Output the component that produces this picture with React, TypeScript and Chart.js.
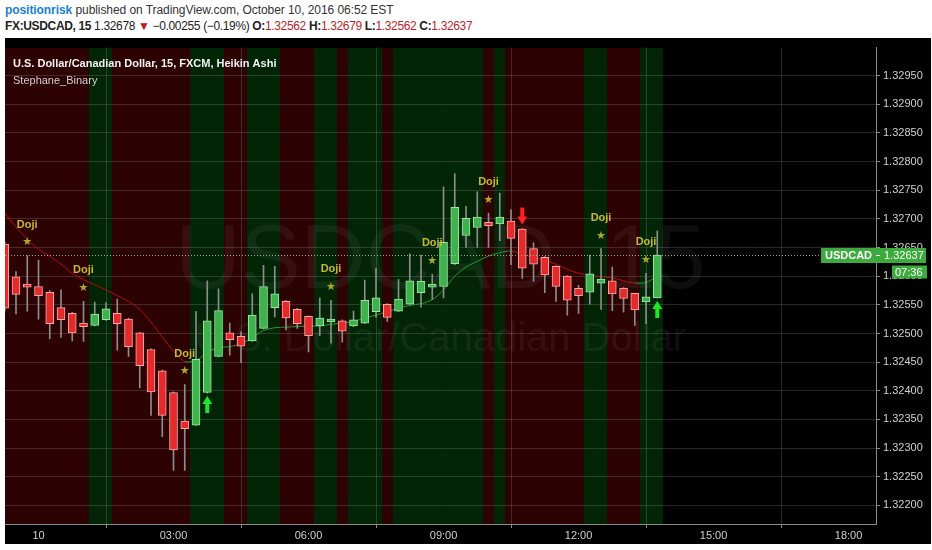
import React, { useEffect, useRef } from "react";
import { Chart, registerables } from "chart.js";
Chart.register(...registerables);

// quarter-hour bar index, 0 = 00:00 on Oct 10
const candleIndex = [
  -3, -2, -1, 0, 1, 2, 3, 4, 5, 6, 7, 8, 9, 10, 11, 12, 13, 14, 15, 16, 17, 18, 19, 20, 21, 22, 23, 24, 25, 26,
  27, 28, 29, 30, 31, 32, 33, 34, 35, 36, 37, 38, 39, 40, 41, 42, 43, 44, 45, 46, 47, 48, 49, 50, 51, 52, 53, 54, 55,
];
const openValues = [
  1.32656, 1.32599, 1.32585, 1.32582, 1.32572, 1.32545, 1.32535, 1.32518, 1.32514, 1.32524, 1.32535, 1.32525,
  1.32501, 1.32472, 1.32435, 1.32397, 1.32347, 1.3234, 1.32397, 1.3246, 1.32501, 1.32495, 1.32487, 1.32509,
  1.32545, 1.32556, 1.32542, 1.3253, 1.32513, 1.3252, 1.32522, 1.32513, 1.32518, 1.32538, 1.32551, 1.32539,
  1.32551, 1.32571, 1.32581, 1.32582, 1.32622, 1.32671, 1.32685, 1.32694, 1.32691, 1.32696, 1.32682, 1.32648,
  1.32633, 1.32617, 1.326, 1.32579, 1.32572, 1.32588, 1.32592, 1.32579, 1.3257, 1.32555, 1.32562,
];
const highValues = [
  1.3266, 1.32608, 1.32636, 1.32628, 1.32575, 1.32576, 1.32537, 1.32556, 1.32555, 1.32554, 1.3256, 1.32527,
  1.32502, 1.32473, 1.32436, 1.32398, 1.32411, 1.32538, 1.32592, 1.32578, 1.32518, 1.32503, 1.32569, 1.32619,
  1.32617, 1.32558, 1.32544, 1.32531, 1.32562, 1.32558, 1.32524, 1.32539, 1.32593, 1.32614, 1.32552, 1.32594,
  1.32639, 1.32637, 1.32603, 1.32756, 1.32779, 1.32722, 1.32747, 1.3271, 1.32745, 1.32716, 1.32683, 1.32658,
  1.32634, 1.32618, 1.32601, 1.32584, 1.32637, 1.32648, 1.32616, 1.3258, 1.3257, 1.32605, 1.32679,
];
const lowValues = [
  1.3254, 1.32534, 1.32539, 1.32525, 1.32491, 1.32493, 1.32487, 1.32486, 1.32513, 1.32523, 1.32471, 1.3246,
  1.32405, 1.32357, 1.3232, 1.32261, 1.32261, 1.32339, 1.32396, 1.32459, 1.32462, 1.32449, 1.32486, 1.32508,
  1.32529, 1.32506, 1.32509, 1.32468, 1.32496, 1.32483, 1.32485, 1.32512, 1.32517, 1.32528, 1.32521, 1.32538,
  1.3255, 1.32546, 1.32559, 1.32562, 1.3262, 1.3265, 1.3265, 1.3265, 1.32662, 1.3262, 1.32596, 1.32591,
  1.32571, 1.32556, 1.32532, 1.32535, 1.32551, 1.32542, 1.3254, 1.32537, 1.32514, 1.32517, 1.32562,
];
const closeValues = [
  1.32544, 1.32568, 1.32581, 1.32566, 1.32517, 1.32524, 1.32501, 1.32512, 1.32534, 1.32543, 1.32517, 1.32477,
  1.32444, 1.32398, 1.32357, 1.32297, 1.32334, 1.32455, 1.32522, 1.3254, 1.32489, 1.32478, 1.32532, 1.32582,
  1.32569, 1.32527, 1.32517, 1.32496, 1.32527, 1.32525, 1.32504, 1.32524, 1.32558, 1.32562, 1.32528, 1.3256,
  1.32592, 1.32591, 1.32582, 1.32659, 1.3272, 1.32701, 1.32703, 1.32688, 1.32703, 1.32666, 1.32614, 1.32621,
  1.32602, 1.32582, 1.32558, 1.32566, 1.32604, 1.32595, 1.32569, 1.32561, 1.32541, 1.32564, 1.32637,
];
const maValues = [
  1.3271, 1.32686, 1.32665, 1.32647, 1.32635, 1.32621, 1.32605, 1.32594, 1.32585, 1.32576, 1.32566, 1.32556,
  1.32542, 1.3252, 1.32494, 1.32469, 1.32451, 1.32453, 1.32467, 1.32475, 1.32477, 1.32482, 1.32493, 1.32505,
  1.3251, 1.32511, 1.32512, 1.32513, 1.32513, 1.32516, 1.32518, 1.32521, 1.32527, 1.32532, 1.32538, 1.32544,
  1.32549, 1.32552, 1.32559, 1.32576, 1.326, 1.32616, 1.32626, 1.32635, 1.32641, 1.32644, 1.32638, 1.32633,
  1.32628, 1.32621, 1.32612, 1.32605, 1.32602, 1.32599, 1.32597, 1.32592, 1.32588, 1.32589, 1.326,
];
const dojiIndex = [-1, 4, 13, 26, 35, 40, 50, 54];
const upArrowIndex = [15, 55];
const downArrowIndex = [43];
const xTickValues = [0, 12, 24, 36, 48, 60, 72];
const xTickLabels = ["10", "03:00", "06:00", "09:00", "12:00", "15:00", "18:00"];
const yTickValues = [
  1.322, 1.3225, 1.323, 1.3235, 1.324, 1.3245, 1.325, 1.3255, 1.326, 1.3265, 1.327, 1.3275, 1.328, 1.3285, 1.329,
  1.3295,
];
const lastPrice = 1.32637;
const lastPriceLabel = "1.32637";
const symbolLabel = "USDCAD";
const countdownLabel = "07:36";

const FONT = "'Liberation Sans', Arial, sans-serif";
const UP_FILL = "#3fb24e";
const UP_BORDER = "#9be6a2";
const DOWN_FILL = "#e42b2b";
const DOWN_BORDER = "#ffa8a8";
const BAND_UP = "#022506";
const BAND_DOWN = "#2d0202";

const bandsPlugin = {
  id: "bands",
  beforeDraw(chart: any) {
    const { ctx, chartArea: a, scales } = chart;
    const x = scales.x;
    ctx.save();
    ctx.fillStyle = "#000";
    ctx.fillRect(0, 0, chart.width, chart.height);
    ctx.beginPath();
    ctx.rect(a.left, a.top, a.right - a.left, a.bottom - a.top);
    ctx.clip();
    candleIndex.forEach((idx, k) => {
      const x0 = Math.round(x.getPixelForValue(idx - 0.5));
      const x1 = Math.round(x.getPixelForValue(idx + 0.5));
      ctx.fillStyle = closeValues[k] >= openValues[k] ? BAND_UP : BAND_DOWN;
      ctx.fillRect(x0, a.top, x1 - x0, a.bottom - a.top);
    });
    ctx.restore();
  },
};

const watermarkPlugin = {
  id: "watermark",
  beforeDatasetsDraw(chart: any) {
    const { ctx, chartArea: a } = chart;
    const cx = (a.left + a.right) / 2;
    ctx.save();
    ctx.fillStyle = "rgba(255,255,255,0.055)";
    ctx.textAlign = "center";
    ctx.textBaseline = "middle";
    ctx.font = `90px ${FONT}`;
    ctx.fillText("USDCAD, 15", cx, a.top + 216);
    ctx.font = `40px ${FONT}`;
    ctx.fillText("U.S. Dollar/Canadian Dollar", cx, a.top + 292);
    ctx.restore();
  },
};

function drawArrow(ctx: CanvasRenderingContext2D, cx: number, tipY: number, dir: number, color: string) {
  // dir = -1 pointing up, 1 pointing down; tipY is arrow tip
  const len = 17;
  const head = 8;
  const hw = 5;
  const sw = 2;
  const baseY = tipY - dir * len;
  const headY = tipY - dir * head;
  ctx.fillStyle = color;
  ctx.beginPath();
  ctx.moveTo(cx, tipY);
  ctx.lineTo(cx + hw, headY);
  ctx.lineTo(cx + sw, headY);
  ctx.lineTo(cx + sw, baseY);
  ctx.lineTo(cx - sw, baseY);
  ctx.lineTo(cx - sw, headY);
  ctx.lineTo(cx - hw, headY);
  ctx.closePath();
  ctx.fill();
}

const markersPlugin = {
  id: "markers",
  afterDatasetsDraw(chart: any) {
    const { ctx, scales } = chart;
    const x = scales.x;
    const y = scales.y;
    ctx.save();
    ctx.textAlign = "center";
    ctx.textBaseline = "middle";
    dojiIndex.forEach((idx) => {
      const k = candleIndex.indexOf(idx);
      const px = x.getPixelForValue(idx);
      const py = y.getPixelForValue(highValues[k]);
      ctx.fillStyle = "#aaa82a";
      ctx.font = `11px 'DejaVu Sans', sans-serif`;
      ctx.fillText("★", px, py - 13);
      ctx.fillStyle = "#c6bb30";
      ctx.font = `bold 11px ${FONT}`;
      ctx.fillText("Doji", px, py - 31);
    });
    upArrowIndex.forEach((idx) => {
      const k = candleIndex.indexOf(idx);
      const px = x.getPixelForValue(idx);
      const py = y.getPixelForValue(lowValues[k]);
      drawArrow(ctx, px, py + 3, -1, "#1ee62a");
    });
    downArrowIndex.forEach((idx) => {
      const k = candleIndex.indexOf(idx);
      const px = x.getPixelForValue(idx);
      const py = y.getPixelForValue(highValues[k]);
      drawArrow(ctx, px, py - 4, 1, "#ff2020");
    });
    ctx.restore();
  },
};

const overlayPlugin = {
  id: "overlay",
  afterDraw(chart: any) {
    const { ctx, chartArea: a, scales } = chart;
    const y = scales.y;
    const py = Math.round(y.getPixelForValue(lastPrice)) + 0.5;
    ctx.save();
    // dotted last price line
    ctx.strokeStyle = "rgba(170,210,170,0.8)";
    ctx.lineWidth = 1;
    ctx.setLineDash([1, 2]);
    ctx.beginPath();
    ctx.moveTo(a.left, py);
    ctx.lineTo(a.right, py);
    ctx.stroke();
    ctx.setLineDash([]);
    // symbol label
    ctx.fillStyle = "#3daa3d";
    ctx.fillRect(a.right - 55, py - 7.5, 55, 15);
    ctx.fillRect(a.right, py - 7.5, 50, 15);
    ctx.fillRect(a.right + 16, py + 10, 35, 13);
    ctx.fillStyle = "#fff";
    ctx.textBaseline = "middle";
    ctx.textAlign = "center";
    ctx.font = `bold 11px ${FONT}`;
    ctx.fillText(symbolLabel, a.right - 27.5, py + 0.5);
    ctx.textAlign = "left";
    ctx.font = `11px ${FONT}`;
    ctx.fillText(lastPriceLabel, a.right + 8, py + 0.5);
    ctx.fillText(countdownLabel, a.right + 19, py + 17);
    ctx.strokeStyle = "#fff";
    ctx.beginPath();
    ctx.moveTo(a.right, py);
    ctx.lineTo(a.right + 4, py);
    ctx.stroke();
    // titles
    ctx.textAlign = "left";
    ctx.fillStyle = "#f2f2f2";
    ctx.font = `bold 11px ${FONT}`;
    ctx.fillText("U.S. Dollar/Canadian Dollar, 15, FXCM, Heikin Ashi", a.left + 8, a.top + 16);
    ctx.fillStyle = "#cfcfcf";
    ctx.font = `11px ${FONT}`;
    ctx.fillText("Stephane_Binary", a.left + 8, a.top + 33);
    ctx.restore();
  },
};

function CandleChart() {
  const ref = useRef<HTMLCanvasElement | null>(null);
  useEffect(() => {
    if (!ref.current) return;
    const wickData = candleIndex.map((idx, k) => ({ x: idx, y: [lowValues[k], highValues[k]] }));
    const bodyData = candleIndex.map((idx, k) => ({
      x: idx,
      y: [Math.min(openValues[k], closeValues[k]), Math.max(openValues[k], closeValues[k])],
    }));
    const isUp = candleIndex.map((_, k) => closeValues[k] >= openValues[k]);
    const maData = candleIndex.map((idx, k) => ({ x: idx, y: maValues[k] }));
    const chart = new Chart(ref.current, {
      type: "bar",
      data: {
        datasets: [
          {
            type: "line",
            data: maData,
            borderWidth: 1,
            pointRadius: 0,
            tension: 0.3,
            borderColor: "#b01010",
            segment: {
              borderColor: (c: any) => (c.p1.parsed.y >= c.p0.parsed.y ? "#1f9a2c" : "#b40f0f"),
            },
            order: 3,
          } as any,
          {
            type: "bar",
            data: wickData as any,
            backgroundColor: "#8c8c8c",
            barThickness: 1,
            grouped: false,
            order: 2,
          } as any,
          {
            type: "bar",
            data: bodyData as any,
            backgroundColor: isUp.map((u) => (u ? UP_FILL : DOWN_FILL)),
            borderColor: isUp.map((u) => (u ? UP_BORDER : DOWN_BORDER)),
            borderWidth: 1,
            borderSkipped: false,
            barThickness: 8,
            minBarLength: 3,
            grouped: false,
            order: 1,
          } as any,
        ],
      },
      options: {
        animation: false,
        responsive: false,
        maintainAspectRatio: false,
        layout: { padding: 0 },
        plugins: { legend: { display: false }, tooltip: { enabled: false } },
        scales: {
          x: {
            type: "linear",
            min: -2.978,
            max: 74.44,
            offset: false,
            afterBuildTicks: (s: any) => {
              s.ticks = xTickValues.map((v) => ({ value: v }));
            },
            afterFit: (s: any) => {
              s.height = 20;
            },
            ticks: {
              color: "#d0d0d0",
              font: { family: FONT, size: 11 },
              padding: 1,
              maxRotation: 0,
              autoSkip: false,
              callback: (v: any) => {
                const i = xTickValues.indexOf(Number(v));
                return i >= 0 ? xTickLabels[i] : "";
              },
            },
            grid: { color: "rgba(150,150,150,0.26)", tickColor: "#888", tickLength: 4, drawTicks: true },
            border: { color: "#8a8a8a" },
          },
          y: {
            type: "linear",
            position: "right",
            min: 1.321675,
            max: 1.329989,
            afterBuildTicks: (s: any) => {
              s.ticks = yTickValues.map((v) => ({ value: v }));
            },
            afterFit: (s: any) => {
              s.width = 55;
            },
            ticks: {
              color: "#d0d0d0",
              font: { family: FONT, size: 11 },
              padding: 3,
              callback: (v: any) => Number(v).toFixed(5),
            },
            grid: { color: "rgba(150,150,150,0.26)", tickColor: "#888", tickLength: 4, drawTicks: true },
            border: { color: "#8a8a8a" },
          },
        },
      } as any,
      plugins: [bandsPlugin, watermarkPlugin, markersPlugin, overlayPlugin],
    });
    return () => chart.destroy();
  }, []);
  return <canvas ref={ref} width={926} height={506} style={{ display: "block" }} />;
}

export default function App() {
  const red = { color: "#b8262a" };
  return (
    <div
      style={{
        position: "fixed",
        left: 0,
        top: 0,
        width: 932,
        height: 550,
        background: "#ffffff",
        overflow: "hidden",
        fontFamily: FONT,
      }}
    >
      <div
        style={{
          position: "absolute",
          left: 5,
          top: 2,
          fontSize: 12,
          lineHeight: "16px",
          color: "#333",
          whiteSpace: "nowrap",
          letterSpacing: "-0.07px",
        }}
      >
        <span style={{ color: "#1a7fd6", fontWeight: "bold" }}>positionrisk</span> published on TradingView.com, October
        10, 2016 06:52 EST
      </div>
      <div
        style={{
          position: "absolute",
          left: 5,
          top: 18,
          fontSize: 12,
          lineHeight: "16px",
          color: "#222",
          whiteSpace: "nowrap",
          letterSpacing: "-0.35px",
        }}
      >
        <b>FX:USDCAD, 15</b> 1.32678 <span style={{ color: "#c4161c" }}>▼</span> −0.00255 (−0.19%) <b>O:</b>
        <span style={red}>1.32562</span> <b>H:</b>
        <span style={red}>1.32679</span> <b>L:</b>
        <span style={red}>1.32562</span> <b>C:</b>
        <span style={red}>1.32637</span>
      </div>
      <div style={{ position: "absolute", left: 5, top: 38, width: 926, height: 506, background: "#000" }}>
        <CandleChart />
      </div>
    </div>
  );
}
